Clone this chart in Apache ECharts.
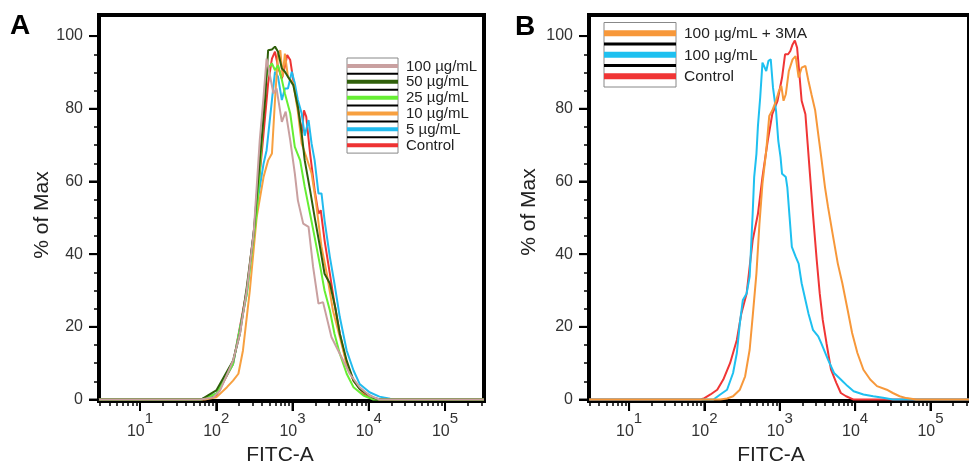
<!DOCTYPE html>
<html><head><meta charset="utf-8">
<script src="https://cdn.jsdelivr.net/npm/echarts@6/dist/echarts.min.js"></script>
<style>html,body{margin:0;padding:0;background:#fff}#c{width:969px;height:471px}</style>
</head><body><div id="c"></div>
<script>
// ---------- DATA (x = log10 FITC-A, y = % of Max) ----------
const decadeLabels = [1, 2, 3, 4, 5];          // labelled as 10^n
const yTickLabels = [0, 20, 40, 60, 80, 100];
const yMinorTicks = [5, 10, 15, 25, 30, 35, 45, 50, 55, 65, 70, 75, 85, 90, 95];

const namesA = ['100 µg/mL', '50 µg/mL', '25 µg/mL', '10 µg/mL', '5 µg/mL', 'Control'];
const colorsA = ['#c9a0a0', '#2f5f0a', '#66ee33', '#f7a040', '#22bbee', '#ee3333'];

const a100 = [[0.46,0],[1.79,0],[1.96,0.6],[2.05,2.5],[2.22,10.7],[2.31,18.1],[2.40,30.0],[2.49,45.6],[2.57,71.3],[2.62,83.3],[2.66,93.8],[2.75,84.2],[2.79,85.6],[2.86,76.4],[2.91,79.2],[2.97,71.3],[3.03,62.2],[3.07,54.8],[3.14,48.4],[3.21,47.5],[3.27,36.5],[3.34,26.4],[3.40,26.8],[3.51,17.2],[3.62,12.6],[3.75,7.1],[3.88,3.4],[4.01,1.1],[4.14,0],[5.51,0]];
const a50 = [[0.46,0],[1.80,0],[2.00,2.5],[2.22,10.7],[2.31,18.1],[2.40,30.9],[2.49,45.6],[2.57,65.8],[2.64,82.4],[2.68,96.1],[2.73,96.3],[2.77,97.1],[2.81,95.7],[2.86,91.1],[2.90,90.2],[2.94,88.8],[3.01,86.5],[3.07,80.5],[3.12,73.2],[3.16,65.8],[3.23,57.6],[3.29,50.2],[3.36,42.0],[3.42,34.6],[3.49,31.9],[3.56,25.4],[3.62,18.1],[3.71,10.7],[3.80,5.2],[3.88,2.9],[3.97,1.6],[4.06,0.5],[4.14,0],[5.51,0]];
const a25 = [[0.46,0],[1.80,0],[2.00,1.6],[2.22,9.8],[2.40,29.1],[2.53,51.1],[2.59,68.6],[2.64,87.0],[2.68,91.1],[2.73,92.5],[2.77,90.6],[2.81,92.0],[2.86,88.0],[2.90,84.2],[2.97,78.7],[3.03,69.5],[3.10,65.8],[3.16,58.5],[3.23,51.1],[3.29,44.7],[3.36,37.0],[3.42,30.0],[3.49,24.5],[3.55,18.1],[3.62,12.6],[3.71,7.1],[3.80,3.4],[3.93,1.1],[4.06,0],[5.51,0]];
const a10 = [[0.46,0],[1.85,0],[2.00,0.6],[2.14,3.4],[2.22,5.2],[2.29,7.1],[2.35,13.5],[2.44,30.0],[2.53,50.2],[2.62,61.2],[2.68,65.8],[2.73,67.7],[2.77,82.4],[2.81,95.2],[2.84,96.1],[2.87,88.8],[2.90,95.2],[2.94,88.8],[3.01,87.0],[3.07,79.2],[3.12,70.4],[3.18,66.8],[3.25,62.2],[3.31,53.9],[3.38,42.0],[3.45,34.6],[3.53,24.5],[3.62,17.2],[3.71,9.8],[3.80,5.2],[3.93,2.0],[4.06,0.5],[4.14,0],[5.51,0]];
const a5 = [[0.46,0],[1.80,0],[2.00,1.6],[2.22,9.8],[2.40,29.1],[2.53,53.0],[2.62,64.9],[2.66,68.6],[2.73,82.4],[2.77,90.2],[2.81,88.8],[2.86,82.4],[2.90,85.6],[2.94,85.6],[2.99,90.2],[3.03,87.0],[3.07,82.4],[3.12,78.7],[3.16,72.6],[3.21,76.9],[3.25,70.4],[3.29,65.8],[3.34,56.7],[3.38,56.7],[3.42,49.3],[3.49,39.2],[3.55,31.9],[3.62,22.7],[3.71,13.5],[3.80,8.0],[3.88,4.3],[4.01,2.0],[4.14,0.8],[4.28,0.2],[4.35,0],[5.51,0]];
const aCtrl = [[0.46,0],[1.80,0],[2.00,1.1],[2.22,9.8],[2.40,30.0],[2.53,53.0],[2.62,73.2],[2.68,87.0],[2.73,93.8],[2.77,95.7],[2.81,91.6],[2.86,88.3],[2.90,91.6],[2.93,94.8],[2.97,93.4],[3.01,87.9],[3.07,80.5],[3.12,73.2],[3.15,79.6],[3.18,77.8],[3.23,67.7],[3.29,57.6],[3.34,51.1],[3.37,52.1],[3.42,43.8],[3.49,34.6],[3.55,26.4],[3.62,18.1],[3.71,9.8],[3.80,5.2],[3.93,1.6],[4.06,0.4],[4.14,0],[5.51,0]];

const namesB = ['100 µg/mL + 3MA', '100 µg/mL', 'Control'];
const colorsB = ['#f7983a', '#1ec0f0', '#f03535'];

const b3ma = [[0.47,0],[2.21,0],[2.30,0.3],[2.38,0.9],[2.47,2.7],[2.54,6.4],[2.60,13.7],[2.64,22.8],[2.69,34.7],[2.73,48.4],[2.77,59.4],[2.82,68.5],[2.86,78.0],[2.90,79.5],[2.95,82.2],[2.99,85.0],[3.02,86.3],[3.05,82.2],[3.08,84.0],[3.12,90.4],[3.17,93.6],[3.21,94.5],[3.25,88.6],[3.29,91.3],[3.34,91.8],[3.38,87.7],[3.42,84.0],[3.47,79.5],[3.51,73.0],[3.55,66.7],[3.60,58.4],[3.64,53.0],[3.70,45.7],[3.77,37.4],[3.83,32.0],[3.90,24.7],[3.96,18.3],[4.03,12.8],[4.11,8.2],[4.20,5.5],[4.29,3.7],[4.42,2.7],[4.50,1.8],[4.59,0.9],[4.68,0.4],[4.81,0],[5.51,0]];
const b100 = [[0.47,0],[2.12,0],[2.21,1.4],[2.30,2.7],[2.38,7.3],[2.43,12.8],[2.47,21.0],[2.51,27.4],[2.56,29.2],[2.60,33.8],[2.64,51.1],[2.66,61.2],[2.69,67.6],[2.71,75.3],[2.74,83.1],[2.77,92.7],[2.82,90.4],[2.85,93.2],[2.88,93.6],[2.91,85.8],[2.95,79.5],[2.98,71.2],[3.01,66.7],[3.03,62.1],[3.08,61.2],[3.10,58.4],[3.13,50.2],[3.16,42.0],[3.21,39.3],[3.25,37.4],[3.29,32.0],[3.34,27.4],[3.38,23.7],[3.44,19.2],[3.51,17.4],[3.55,15.5],[3.64,11.0],[3.72,7.3],[3.81,5.5],[3.90,3.7],[3.98,2.3],[4.11,1.4],[4.24,0.9],[4.37,0.5],[4.50,0],[5.51,0]];
const bCtrl = [[0.47,0],[1.95,0],[2.00,0.4],[2.08,1.4],[2.17,2.7],[2.25,5.5],[2.34,10.0],[2.43,16.4],[2.49,23.7],[2.56,29.2],[2.60,36.5],[2.64,43.8],[2.71,51.1],[2.77,61.2],[2.84,71.2],[2.90,78.5],[2.97,82.2],[3.03,88.6],[3.07,95.0],[3.11,95.0],[3.14,95.9],[3.17,97.7],[3.20,98.8],[3.23,96.8],[3.26,89.5],[3.29,82.2],[3.34,78.5],[3.37,70.3],[3.40,62.1],[3.44,51.1],[3.49,38.4],[3.53,29.2],[3.57,21.9],[3.62,15.5],[3.68,8.2],[3.75,4.6],[3.81,1.8],[3.88,0.9],[3.98,0],[5.51,0]];

const dataA = [a100, a50, a25, a10, a5, aCtrl];
const dataB = [b3ma, b100, bCtrl];

// ---------- LAYOUT ----------
const FONT = '"Liberation Sans", Arial, sans-serif';
const panels = [
  { grid: { left: 99, top: 15, width: 385, height: 386 }, xMin: 0.462, xMax: 5.511,
    letter: 'A', letterPos: [10, 12], xNamePad: [0, 23, 0, 0], yNameGap: 46, yNamePad: [0, 14, 0, 0],
    names: namesA, colors: colorsA, data: dataA,
    legend: { x: 347, y: 58, w: 51, rowH: 15.85, stripe: 4, line: 2, textX: 406, fontSize: 15 } },
  { grid: { left: 589, top: 15, width: 389, height: 386 }, xMin: 0.468, xMax: 5.511,
    letter: 'B', letterPos: [515, 13], xNamePad: [0, 16, 0, 0], yNameGap: 49, yNamePad: [0, 8, 0, 0],
    names: namesB, colors: colorsB, data: dataB,
    legend: { x: 604, y: 22.5, w: 72, rowH: 21.5, stripe: 6, line: 3, textX: 684, fontSize: 15.5 } }
];

const minorMult = [2, 3, 4, 5, 6, 7, 8, 9];
function minorX(min, max) {
  const out = [];
  for (let n = 0; n <= 5; n++) for (const k of minorMult) {
    const v = n + Math.log10(k);
    if (v > min && v < max) out.push(v);
  }
  return out;
}

function tickOnlyAxis(base, values, len, w) {
  return Object.assign({}, base, {
    axisLine: { show: false, onZero: false },
    splitLine: { show: false }, axisLabel: { show: false },
    axisTick: { show: true, inside: false, customValues: values, length: len, lineStyle: { color: '#000', width: w } }
  });
}

// major tick marks drawn through the axes' scales (custom series, unclipped)
function majorTickSeries(axisIdx, points, dir, len) {
  return {
    type: 'custom', xAxisIndex: axisIdx, yAxisIndex: axisIdx, clip: false, silent: true, z: 20,
    animation: false, data: points,
    renderItem: (params, api) => {
      const p = api.coord([api.value(0), api.value(1)]);
      const dx = dir === 'x' ? 0 : -len, dy = dir === 'x' ? len : 0;
      return { type: 'line', shape: { x1: p[0], y1: p[1], x2: p[0] + dx, y2: p[1] + dy },
        style: { stroke: '#000', lineWidth: 2 } };
    }
  };
}

const grids = [], xAxes = [], yAxes = [], series = [], graphics = [];
panels.forEach((p, i) => {
  grids.push(Object.assign({ show: true, borderColor: '#000', borderWidth: 4, backgroundColor: 'transparent' }, p.grid));
  const yMin = -0.4, yMax = 105.8;
  const xBase = { gridIndex: i, type: 'value', min: p.xMin, max: p.xMax, position: 'bottom', offset: 0 };
  const yBase = { gridIndex: i, type: 'value', min: yMin, max: yMax, position: 'left', offset: 0 };
  // x: label axis (used by series)
  xAxes.push(Object.assign({}, xBase, {
    axisLine: { show: true, onZero: false, lineStyle: { color: '#000', width: 4 } }, splitLine: { show: false },
    axisTick: { show: false },
    axisLabel: {
      customValues: decadeLabels.slice(), margin: 10,
      formatter: v => '{b|10}{s|' + Math.round(v) + '}',
      rich: {
        b: { fontSize: 16, fontFamily: FONT, color: '#333', lineHeight: 29, verticalAlign: 'bottom' },
        s: { fontSize: 15, fontFamily: FONT, color: '#333', lineHeight: 29, verticalAlign: 'top' }
      }
    },
    name: 'FITC-A', nameLocation: 'middle', nameGap: 44,
    nameTextStyle: { fontSize: 21, fontFamily: FONT, color: '#222', padding: p.xNamePad }
  }));
  xAxes.push(tickOnlyAxis(xBase, minorX(p.xMin, p.xMax), 5, 1.5));
  xAxes.push(tickOnlyAxis(xBase, decadeLabels.slice(), 10, 2));
  // y: label axis
  yAxes.push(Object.assign({}, yBase, {
    axisLine: { show: true, onZero: false, lineStyle: { color: '#000', width: 4 } }, splitLine: { show: false },
    axisTick: { show: false },
    axisLabel: { customValues: yTickLabels.slice(), margin: 16, fontSize: 16, fontFamily: FONT, color: '#333' },
    name: '% of Max', nameLocation: 'middle', nameGap: p.yNameGap,
    nameTextStyle: { fontSize: 21, fontFamily: FONT, color: '#222', padding: p.yNamePad }
  }));
  yAxes.push(tickOnlyAxis(yBase, yMinorTicks.slice(), 5, 1.5));
  yAxes.push(tickOnlyAxis(yBase, yTickLabels.slice(), 10, 2));
  // series: first listed drawn on top
  const n = p.data.length;
  for (let s = n - 1; s >= 0; s--) {
    series.push({
      type: 'line', name: p.names[s], xAxisIndex: i * 3, yAxisIndex: i * 3,
      data: p.data[s], showSymbol: false, symbol: 'none', smooth: false,
      lineStyle: { color: p.colors[s], width: 2 }, itemStyle: { color: p.colors[s] },
      z: 2 + (n - s), animation: false
    });
  }
  series.push(majorTickSeries(i * 3, decadeLabels.map(v => [v, yMin]), 'x', 10));
  series.push(majorTickSeries(i * 3, yTickLabels.map(v => [p.xMin, v]), 'y', 10));
  // panel letter
  graphics.push({ type: 'text', left: p.letterPos[0], top: p.letterPos[1],
    style: { text: p.letter, font: 'bold 28px ' + FONT, fill: '#000' } });
  // legend (drawn)
  const L = p.legend;
  const rows = p.names.length;
  const children = [];
  children.push({ type: 'rect', shape: { x: L.x, y: L.y, width: L.w, height: L.rowH * rows },
    style: { fill: '#fff', stroke: '#888', lineWidth: 1 } });
  for (let r = 0; r < rows; r++) {
    const cy = L.y + L.rowH * (r + 0.5);
    children.push({ type: 'rect', shape: { x: L.x, y: cy - L.stripe / 2, width: L.w, height: L.stripe },
      style: { fill: p.colors[r] } });
    if (r > 0) {
      const ly = L.y + L.rowH * r;
      children.push({ type: 'rect', shape: { x: L.x, y: ly - L.line / 2, width: L.w, height: L.line },
        style: { fill: '#000' } });
    }
    children.push({ type: 'text', x: L.textX, y: cy + 0.5,
      style: { text: p.names[r], font: L.fontSize + 'px ' + FONT, fill: '#222', verticalAlign: 'middle', align: 'left' } });
  }
  graphics.push({ type: 'group', children: children, z: 100 });
});

const chart = echarts.init(document.getElementById('c'), null, { renderer: 'canvas' });
chart.setOption({
  animation: false,
  backgroundColor: '#fff',
  grid: grids, xAxis: xAxes, yAxis: yAxes, series: series, graphic: graphics
});
</script></body></html>
